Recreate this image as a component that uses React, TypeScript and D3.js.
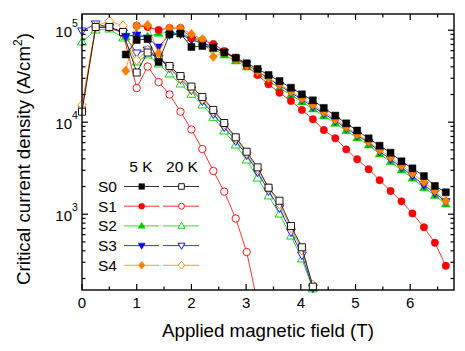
import React from 'react';
import * as d3 from 'd3';

// ---------- data ----------
// 5 K field grid (T)
const X5 = [0.8, 1.0, 1.2, 1.4, 1.6, 1.8, 2.0, 2.2, 2.4, 2.6, 2.81, 3.01, 3.21, 3.41, 3.61, 3.82, 4.02, 4.22, 4.42, 4.63, 4.83, 5.03, 5.24, 5.44, 5.64, 5.84, 6.04, 6.25, 6.45, 6.65];
// 20 K field grid (T)
const X20 = [0, 0.25, 0.5, 0.75, 1.0, 1.2, 1.4, 1.6, 1.8, 2.0, 2.2, 2.4, 2.6, 2.81, 3.01, 3.21, 3.41, 3.61, 3.82, 4.02, 4.22];

// Jc (A/cm^2) at 5 K
const S0_5K = [54400, 78200, 80200, 45100, 90200, 92000, 65700, 67300, 64500, 57500, 50200, 43700, 37900, 32600, 28000, 23700, 20100, 17300, 14300, 11800, 9720, 8120, 6680, 5550, 4660, 3760, 3150, 2600, 2030, 1730];
const S1_5K = [111900, 108300, 100500, 105600, 105600, 82300, 78200, 70800, 59400, 49800, 40800, 32600, 25800, 20900, 17000, 13600, 10750, 8230, 6680, 5070, 3950, 3080, 2340, 1790, 1380, 1020, 720, 490, 275];
const S2_5K = [85400, 90900, 85000, 92500, 94900, 92000, 82300, 74400, 62500, 53700, 46300, 39800, 33400, 28000, 23500, 19800, 16600, 13900, 11700, 9720, 8080, 6730, 5650, 4510, 3720, 3020, 2460, 1940, 1600, 1290];
const S3_5K = [85800, 88600, 82300, 65700, 89300, 90900, 78200, 72600, 66500, 57200, 49200, 42400, 35600, 29900, 25000, 21000, 17600, 14800, 12400, 10360, 8600, 7170, 6020, 4800, 3960, 3220, 2610, 2070, 1700, 1370];
const S4_5K = [36300, 111100, 113900, 56100, 104800, 104800, 90900, 79600, 51500, 57900, 48100, 41600, 35600, 30200, 25700, 21600, 18200, 15500, 12900, 10720, 8870, 7390, 6140, 5000, 4160, 3370, 2780, 2240, 1800, 1390];

// Jc (A/cm^2) at 20 K
const S0_20K = [13000, 108300, 108300, 95600, 34700, 57200, 49800, 40800, 31800, 24400, 18800, 13600, 9800, 6850, 4780, 3230, 1940, 1400, 744, 437, 163];
const S1_20K = [14300, 107000, 107000, 93200, 23500, 40300, 27300, 20000, 13000, 8330, 5110, 2950, 1760, 898, 388, 108];
const S2_20K = [74400, 100500, 103000, 82300, 45100, 53700, 42900, 33400, 26000, 20100, 15400, 11300, 8020, 5650, 3880, 2470, 1580, 1005, 579, 326, 154];
const S3_20K = [98000, 116800, 108300, 93200, 56500, 60900, 49800, 38800, 29500, 22400, 17000, 12300, 8870, 6250, 4400, 2870, 1790, 1170, 640, 360, 158];
const S4_20K = [15400, 111100, 125900, 111900, 47400, 60900, 52400, 39800, 30200, 23200, 17900, 13200, 9560, 6650, 4630, 3100, 1930, 1290, 708, 408, 170];

const SAMPLES = ['S0', 'S1', 'S2', 'S3', 'S4'];
const COLORS = ['#000000', '#ff0000', '#00cc00', '#0000ff', '#ff8000'];
const SHAPES = ['square', 'circle', 'up', 'down', 'diamond'];
const DATA5 = [S0_5K, S1_5K, S2_5K, S3_5K, S4_5K];
const DATA20 = [S0_20K, S1_20K, S2_20K, S3_20K, S4_20K];

const X_TICKS = [0, 1, 2, 3, 4, 5, 6];
const Y_TICKS = [1000, 10000, 100000];
const Y_TICK_EXP = ['3', '4', '5'];

const FONT = '"Liberation Sans", Arial, Helvetica, sans-serif';

function markerPath(shape: string, s: number): string {
  switch (shape) {
    case 'square':
      return `M${-3.5 * s},${-3.5 * s}H${3.5 * s}V${3.5 * s}H${-3.5 * s}Z`;
    case 'circle': {
      const r = 3.7 * s;
      return `M${-r},0A${r},${r} 0 1,0 ${r},0A${r},${r} 0 1,0 ${-r},0Z`;
    }
    case 'up':
      return `M0,${-4.6 * s}L${4.4 * s},${3.0 * s}L${-4.4 * s},${3.0 * s}Z`;
    case 'down':
      return `M0,${4.6 * s}L${4.4 * s},${-3.0 * s}L${-4.4 * s},${-3.0 * s}Z`;
    default:
      return `M0,${-4.8 * s}L${4.2 * s},0L0,${4.8 * s}L${-4.2 * s},0Z`;
  }
}

export default function App() {
  const W = 465, H = 351;
  const L = 82, R = 454, T = 14, B = 290;
  const x = d3.scaleLinear().domain([0, 6.8]).range([L, R]);
  const y = d3.scaleLog().domain([150, 150000]).range([B, T]);

  const line = d3.line<[number, number]>().x(d => x(d[0])).y(d => y(d[1]));

  const minorY: number[] = [];
  for (let e = 2; e <= 5; e++) {
    for (let k = 2; k <= 9; k++) {
      const v = k * Math.pow(10, e);
      if (v > 150 && v < 150000) minorY.push(v);
    }
  }
  const minorX = d3.range(0.5, 6.8, 1);

  const series = (xs: number[], ys: number[]) => ys.map((v, i) => [xs[i], v] as [number, number]);

  const renderSeries = (idx: number, open: boolean) => {
    const xs5 = X5.slice(X5.length - DATA5[idx].length);
    const pts = series(open ? X20 : xs5, open ? DATA20[idx] : DATA5[idx]);
    const c = COLORS[idx];
    return (
      <g key={(open ? 'o' : 'f') + idx}>
        <path d={line(pts) || ''} fill="none" stroke={c} strokeWidth={0.8} clipPath="url(#clipLine)" />
        <g clipPath="url(#clipMark)">
          {pts.map((p, i) => (
            <path
              key={i}
              d={markerPath(SHAPES[idx], 1)}
              transform={`translate(${x(p[0])},${y(p[1])})`}
              fill={open ? '#ffffff' : c}
              stroke={c}
              strokeWidth={open ? 0.9 : 0.5}
            />
          ))}
        </g>
      </g>
    );
  };

  const legendRows = SAMPLES.map((s, i) => {
    const yy = 186.5 + i * 19.7;
    const c = COLORS[i];
    return (
      <g key={s}>
        <text x={98} y={yy + 5.5} fontSize={15.5} fontFamily={FONT}>{s}</text>
        <line x1={124} x2={159} y1={yy} y2={yy} stroke={c} strokeWidth={0.8} />
        <line x1={163} x2={199} y1={yy} y2={yy} stroke={c} strokeWidth={0.8} />
        <path d={markerPath(SHAPES[i], 0.8)} transform={`translate(${141.7},${yy})`} fill={c} stroke={c} strokeWidth={0.5} />
        <path d={markerPath(SHAPES[i], 0.8)} transform={`translate(${181.5},${yy})`} fill="#fff" stroke={c} strokeWidth={0.9} />
      </g>
    );
  });

  return (
    <svg width={W} height={H} style={{ display: 'block', position: 'absolute', left: 0, top: 0 }}>
      <defs>
        <clipPath id="clipLine"><rect x={L} y={T} width={R - L} height={B - T} /></clipPath>
        <clipPath id="clipMark"><rect x={L - 10} y={T - 4} width={R - L + 10} height={B - T + 9} /></clipPath>
      </defs>
      <rect x={0} y={0} width={W} height={H} fill="#fff" />

      {/* data: 20 K first, then 5 K */}
      {[2, 3, 1, 4, 0].map(i => renderSeries(i, true))}
      {[2, 3, 1, 4, 0].map(i => renderSeries(i, false))}

      {/* frame */}
      <rect x={L} y={T} width={R - L} height={B - T} fill="none" stroke="#000" strokeWidth={1.4} />

      {/* x ticks */}
      {X_TICKS.map(t => (
        <g key={'xt' + t}>
          <line x1={x(t)} x2={x(t)} y1={B} y2={B - 6} stroke="#000" strokeWidth={1.2} />
          <line x1={x(t)} x2={x(t)} y1={T} y2={T + 6} stroke="#000" strokeWidth={1.2} />
          <text x={x(t)} y={308} textAnchor="middle" fontSize={15} fontFamily={FONT}>{t}</text>
        </g>
      ))}
      {minorX.map(t => (
        <g key={'xm' + t}>
          <line x1={x(t)} x2={x(t)} y1={B} y2={B - 3.5} stroke="#000" strokeWidth={1.2} />
          <line x1={x(t)} x2={x(t)} y1={T} y2={T + 3.5} stroke="#000" strokeWidth={1.2} />
        </g>
      ))}

      {/* y ticks */}
      {Y_TICKS.map((t, i) => (
        <g key={'yt' + t}>
          <line x1={L} x2={L + 6} y1={y(t)} y2={y(t)} stroke="#000" strokeWidth={1.2} />
          <line x1={R} x2={R - 6} y1={y(t)} y2={y(t)} stroke="#000" strokeWidth={1.2} />
          <text x={72} y={y(t) + 6.5} textAnchor="end" fontSize={15} fontFamily={FONT}>10</text>
          <text x={72} y={y(t) - 3} textAnchor="start" fontSize={10.5} fontFamily={FONT}>{Y_TICK_EXP[i]}</text>
        </g>
      ))}
      {minorY.map(t => (
        <g key={'ym' + t}>
          <line x1={L} x2={L + 3.5} y1={y(t)} y2={y(t)} stroke="#000" strokeWidth={1.2} />
          <line x1={R} x2={R - 3.5} y1={y(t)} y2={y(t)} stroke="#000" strokeWidth={1.2} />
        </g>
      ))}

      {/* axis titles */}
      <text x={268} y={337} textAnchor="middle" fontSize={18.7} fontFamily={FONT}>Applied magnetic field (T)</text>
      <text transform="translate(30,159) rotate(-90)" textAnchor="middle" fontSize={18.7} fontFamily={FONT}>
        Critical current density (A/cm<tspan fontSize={12} dy={-8}>2</tspan><tspan dy={8}>)</tspan>
      </text>

      {/* legend */}
      <text x={141} y={172} textAnchor="middle" fontSize={15.5} fontFamily={FONT}>5 K</text>
      <text x={182} y={172} textAnchor="middle" fontSize={15.5} fontFamily={FONT}>20 K</text>
      {legendRows}
    </svg>
  );
}
